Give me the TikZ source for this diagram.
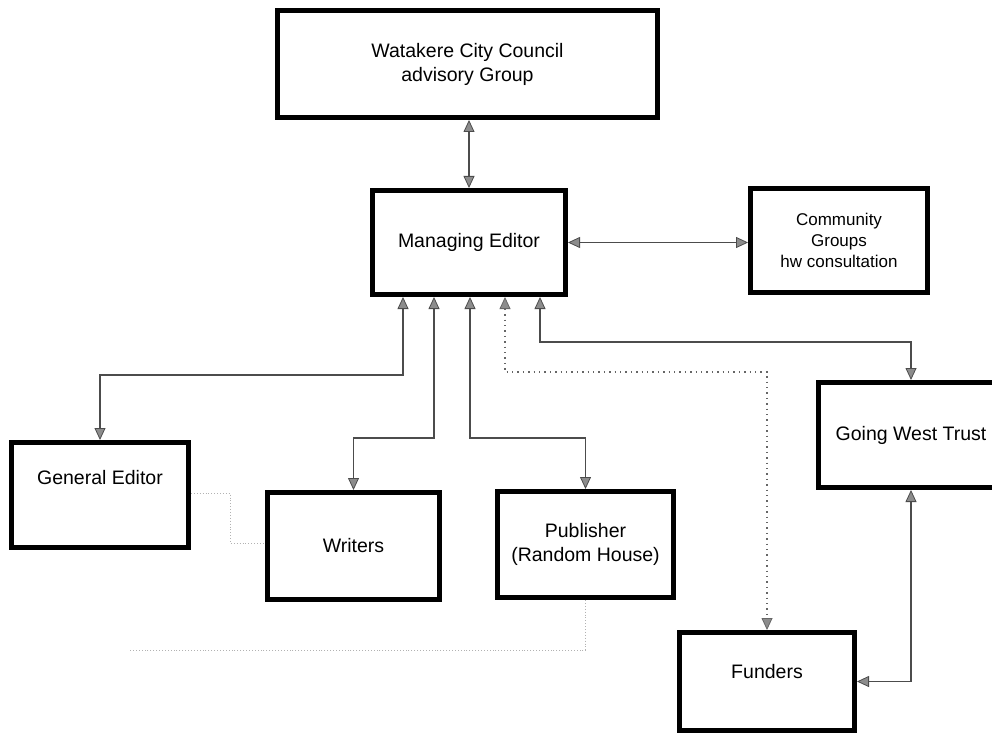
\documentclass[tikz,border=0pt]{standalone}
\usepackage{fontspec}
\setmainfont{Liberation Sans}
\usetikzlibrary{arrows.meta,calc}
\tikzset{gtip/.tip={Triangle[width=11pt,length=12pt,fill=black!45,line width=0.8pt]}}
\begin{document}
\begin{tikzpicture}[x=1pt,y=-1pt,
  box/.style={draw=black,line width=5pt,fill=white,inner sep=0pt,
    font=\fontsize{19.5}{24}\selectfont,align=center},
  txt/.style={font=\fontsize{19.5}{24}\selectfont,align=center,inner sep=0pt},
  conn/.style={draw=black!70,line width=1.7pt,{gtip}-{gtip}},
  lightconn/.style={draw=black!60,line width=1.4pt,loosely dotted,{gtip}-{gtip}},
  faint/.style={draw=black!30,line width=0.9pt,dotted}]
\path[use as bounding box,fill=white] (0,0) rectangle (992,738);
\clip (0,0) rectangle (992,738);

% boxes
\node[box,minimum width=380pt,minimum height=107pt] (top) at (467.5,64) {Watakere City Council\\advisory Group};
\node[box,minimum width=193pt,minimum height=104pt] (me) at (469,242.5) {Managing Editor};
\node[box,minimum width=177pt,minimum height=104pt,font=\fontsize{17}{21}\selectfont] (cg) at (839,240.5) {Community\\Groups\\hw consultation};
\node[box,minimum width=177pt,minimum height=105pt,label={[txt,yshift=17pt]center:General Editor}] (ge) at (100,495) {};
\node[box,minimum width=172pt,minimum height=107pt] (wr) at (353.5,546) {Writers};
\node[box,minimum width=176pt,minimum height=106pt] (pub) at (585.5,544.5) {Publisher\\(Random House)};
\node[box,minimum width=186pt,minimum height=105pt] (gwt) at (911,435) {Going West Trust};
\node[box,minimum width=175pt,minimum height=98pt,label={[txt,yshift=10pt]center:Funders}] (fu) at (767,681.5) {};

% ports on the bottom of Managing Editor
\path (me.south) ++(-66,0) coordinate (p1);
\path (me.south) ++(-35,0) coordinate (p2);
\path (me.south) ++(1,0) coordinate (p3);
\path (me.south) ++(36,0) coordinate (p4);
\path (me.south) ++(71,0) coordinate (p5);

% connectors
\draw[conn] (top.south -| me.north) -- (me.north);
\draw[conn] (me.east) -- (cg.west |- me.east);
\draw[conn] (p1) -- ++(0,78) -| (ge.north);
\draw[conn] (p2) -- ++(0,141) -| (wr.north);
\draw[conn] (p3) -- ++(0,141) -| (pub.north);
\draw[lightconn] (p4) -- ++(0,75) -| (fu.north);
\draw[conn] (p5) -- ++(0,45) -| (gwt.north);
\draw[conn] (gwt.south) |- (fu.east);

% faint traces
\draw[faint] (ge.east |- 0,493) -- (230,493) -- (230,543) -- (wr.west |- 0,543);
\draw[faint] (pub.south) -- (pub.south |- 0,650) -- (130,650);
\end{tikzpicture}
\end{document}
